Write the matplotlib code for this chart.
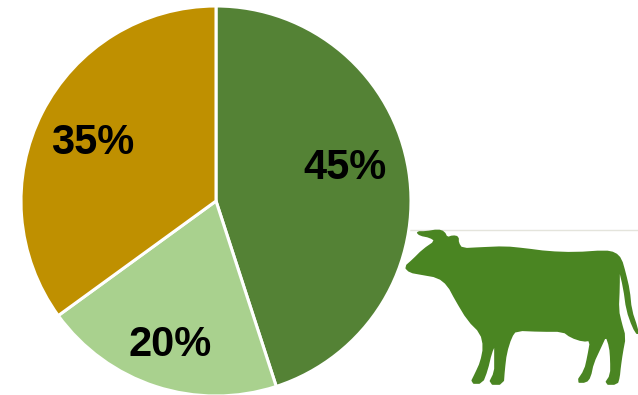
import numpy as np
import matplotlib.pyplot as plt
from matplotlib.patches import Polygon

shares = [45, 20, 35]
slice_colors = ["#548235", "#A9D18E", "#BF9000"]
label_px = [(345, 168), (170, 345), (93, 143)]

# cow outline, traced clockwise from the ear, in pixels
cow_px = [
    (417, 232), (426, 232), (438, 230), (444, 232), (447, 238), (453, 236), (458, 237),
    (458, 243), (462, 249), (481, 248), (505, 247), (525, 249), (548, 252), (575, 253),
    (605, 251), (615, 253), (621, 259), (625, 273), (629, 290), (631, 310), (637, 328),
    (638, 335), (633, 327), (627, 310), (624, 288), (619, 267), (619, 287), (618, 310),
    (621, 323), (625, 337), (622, 353), (620, 367), (619, 377), (617, 384), (605, 384),
    (611, 375), (611, 360), (610, 347), (606, 335), (600, 348), (593, 363), (590, 377),
    (586, 382), (577, 382), (585, 370), (588, 357), (591, 340), (583, 341), (571, 337),
    (563, 331), (541, 331), (516, 330), (511, 337), (506, 353), (504, 370), (503, 384),
    (489, 384), (495, 372), (495, 360), (495, 344), (491, 353), (487, 370), (482, 383),
    (471, 383), (476, 373), (481, 362), (484, 347), (481, 333), (468, 320), (456, 300),
    (448, 285), (438, 277), (421, 274), (410, 272), (405, 267), (413, 260), (423, 250),
    (436, 241), (430, 237), (420, 235),
]

W, H = 638, 395


def flip(points):
    # pixel rows run downward, the axes run upward
    return [(x, H - y) for x, y in points]


def round_corners(points, passes=1):
    # Chaikin corner cutting so the outline does not look faceted
    pts = np.array(points, dtype=float)
    for _ in range(passes):
        nxt = np.roll(pts, -1, axis=0)
        q = 0.75 * pts + 0.25 * nxt
        r = 0.25 * pts + 0.75 * nxt
        pts = np.column_stack((q, r)).reshape(-1, 2)
    return pts


fig = plt.figure(figsize=(W / 100, H / 100), dpi=100)
ax = fig.add_axes([0, 0, 1, 1])

ax.plot([405, W], [H - 229.5, H - 229.5], color="#E4E4DC", lw=1, zorder=1)
ax.add_patch(Polygon(round_corners(flip(cow_px)), closed=True, facecolor="#4A8522",
                     edgecolor="#4A8522", lw=1.2, joinstyle="round", zorder=2))

wedges, _ = ax.pie(shares, colors=slice_colors, center=(216, H - 201), radius=195,
                   startangle=90, counterclock=False,
                   wedgeprops={"edgecolor": "white", "linewidth": 2.2})
for w in wedges:
    w.set_zorder(3)

for v, (x, y) in zip(shares, flip(label_px)):
    ax.text(x, y, f"{v}%", ha="center", va="center", fontsize=30, fontweight="bold",
            family="Liberation Sans", color="black", zorder=4)

ax.set_xlim(0, W)
ax.set_ylim(0, H)
ax.set_aspect("auto")
ax.axis("off")

fig.savefig("out.png", dpi=100)
